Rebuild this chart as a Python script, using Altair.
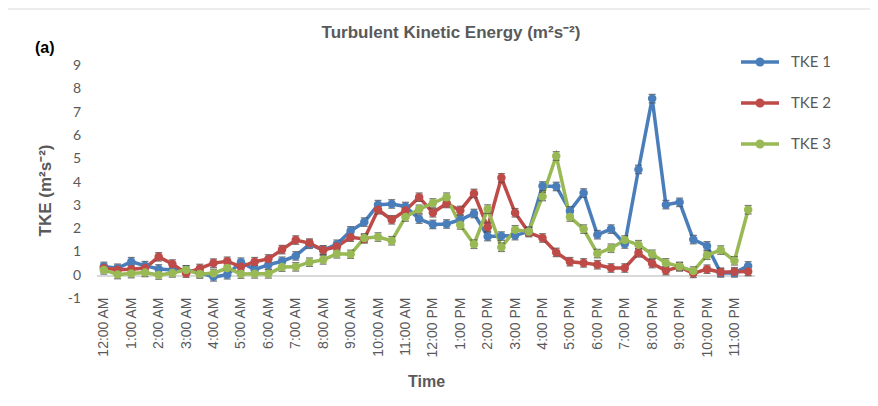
import altair as alt
import pandas as pd

times = ["12:00 AM", "12:30 AM", "1:00 AM", "1:30 AM", "2:00 AM", "2:30 AM",
         "3:00 AM", "3:30 AM", "4:00 AM", "4:30 AM", "5:00 AM", "5:30 AM",
         "6:00 AM", "6:30 AM", "7:00 AM", "7:30 AM", "8:00 AM", "8:30 AM",
         "9:00 AM", "9:30 AM", "10:00 AM", "10:30 AM", "11:00 AM", "11:30 AM",
         "12:00 PM", "12:30 PM", "1:00 PM", "1:30 PM", "2:00 PM", "2:30 PM",
         "3:00 PM", "3:30 PM", "4:00 PM", "4:30 PM", "5:00 PM", "5:30 PM",
         "6:00 PM", "6:30 PM", "7:00 PM", "7:30 PM", "8:00 PM", "8:30 PM",
         "9:00 PM", "9:30 PM", "10:00 PM", "10:30 PM", "11:00 PM", "11:30 PM"]
hour_labels = ["12:00 AM", "1:00 AM", "2:00 AM", "3:00 AM", "4:00 AM", "5:00 AM",
               "6:00 AM", "7:00 AM", "8:00 AM", "9:00 AM", "10:00 AM", "11:00 AM",
               "12:00 PM", "1:00 PM", "2:00 PM", "3:00 PM", "4:00 PM", "5:00 PM",
               "6:00 PM", "7:00 PM", "8:00 PM", "9:00 PM", "10:00 PM", "11:00 PM"]
y_ticks = [-1, 0, 1, 2, 3, 4, 5, 6, 7, 8, 9]
y_tick_labels = ["-1", "0", "1", "2", "3", "4", "5", "6", "7", "8", "9"]

tke1 = [0.40, 0.32, 0.60, 0.43, 0.29, 0.24, 0.24, 0.12, -0.05, 0.04, 0.58, 0.26,
        0.47, 0.62, 0.85, 1.35, 1.10, 1.35, 1.92, 2.30, 3.05, 3.08, 2.97, 2.43,
        2.20, 2.22, 2.40, 2.67, 1.68, 1.70, 1.72, 1.90, 3.85, 3.83, 2.78, 3.55,
        1.76, 2.00, 1.36, 4.56, 7.60, 3.05, 3.15, 1.55, 1.28, 0.12, 0.12, 0.42]
tke2 = [0.33, 0.26, 0.28, 0.33, 0.81, 0.50, 0.11, 0.31, 0.54, 0.62, 0.38, 0.60,
        0.72, 1.12, 1.53, 1.40, 1.10, 1.25, 1.65, 1.58, 2.83, 2.40, 2.80, 3.37,
        2.70, 3.10, 2.80, 3.53, 2.08, 4.20, 2.70, 1.85, 1.62, 1.00, 0.60, 0.55,
        0.47, 0.33, 0.33, 0.98, 0.52, 0.22, 0.38, 0.10, 0.28, 0.15, 0.17, 0.18]
tke3 = [0.25, 0.05, 0.09, 0.14, 0.03, 0.12, 0.25, 0.07, 0.10, 0.33, 0.07, 0.08,
        0.08, 0.37, 0.38, 0.58, 0.68, 0.94, 0.92, 1.62, 1.66, 1.50, 2.52, 2.85,
        3.12, 3.37, 2.18, 1.35, 2.86, 1.22, 1.97, 1.90, 3.40, 5.14, 2.52, 2.00,
        0.95, 1.18, 1.53, 1.33, 0.92, 0.55, 0.40, 0.20, 0.88, 1.10, 0.64, 2.83]
series_names = ["TKE 1", "TKE 2", "TKE 3"]
line_keys = ["L1", "L2", "L3"]
series_colors = ["#4A7EBB", "#BE4B48", "#98B954"]

df = pd.DataFrame({
    "time": times * 3,
    "series": [series_names[0]] * len(tke1) + [series_names[1]] * len(tke2) + [series_names[2]] * len(tke3),
    "lkey": [line_keys[0]] * len(tke1) + [line_keys[1]] * len(tke2) + [line_keys[2]] * len(tke3),
    "tke": tke1 + tke2 + tke3,
})

PW, PH = 658, 233
grey = "#595959"
CAP = 4.2  # half-length of the error bars in pixels

xenc = alt.X("time:N", sort=times, scale=alt.Scale(type="point", padding=0.5),
             axis=alt.Axis(values=hour_labels, labelAngle=270, labelAlign="right",
                           labelBaseline="middle", labelPadding=-2, ticks=False,
                           domain=False, grid=False, labelFont="Liberation Sans",
                           labelFontSize=14, labelColor=grey, labelOverlap=False,
                           title="Time",
                           titleFont="Liberation Sans", titleFontSize=16,
                           titleFontWeight="bold", titleColor=grey,
                           titleY=82, titleBaseline="middle"))
yscale = alt.Scale(domain=[-1, 9], nice=False, zero=False)
yaxis = alt.Axis(values=y_ticks, ticks=False, domain=False, grid=False,
                 labels=False,
                 title="TKE (m²s⁻²)", titleFont="Liberation Sans",
                 titleFontSize=17, titleFontWeight="bold",
                 titleColor=grey, titleAngle=270, titleX=-52, titleY=124,
                 titleAlign="center", titleBaseline="middle")
yenc = alt.Y("tke:Q", scale=yscale, axis=yaxis)

legend_sym = ("M-1,-0.09H1V0.09H-1Z "
              "M0.24,0A0.24,0.24 0 1,1 -0.24,0A0.24,0.24 0 1,1 0.24,0Z")

base = alt.Chart(df)

zero_line = base.mark_rule(color="#D9D9D9", strokeWidth=1.5).encode(
    y=alt.datum(0))

ylabels = alt.Chart(pd.DataFrame({"v": y_ticks, "lab": y_tick_labels})).mark_text(
    align="right", baseline="middle", font="Lato", fontSize=14,
    color=grey).encode(
    y=alt.Y("v:Q", scale=yscale, axis=yaxis), x=alt.value(-16), text="lab:N")

lines = base.mark_line(strokeWidth=3.5).encode(
    x=xenc, y=yenc,
    stroke=alt.Stroke("lkey:N", scale=alt.Scale(domain=line_keys, range=series_colors),
                      legend=None),
    detail="series:N")

ebars = base.mark_rule(color="#404040", strokeWidth=1, yOffset=-CAP,
                       y2Offset=CAP).encode(
    x=xenc, y=yenc, y2="tke:Q", detail="series:N")
caps_lo = base.mark_tick(color="#404040", thickness=1.3, size=7,
                         yOffset=CAP).encode(x=xenc, y=yenc)
caps_hi = base.mark_tick(color="#404040", thickness=1.3, size=7,
                         yOffset=-CAP).encode(x=xenc, y=yenc)

points = base.mark_circle(size=72, opacity=1).encode(
    x=xenc, y=yenc,
    color=alt.Color("series:N",
                    scale=alt.Scale(domain=series_names, range=series_colors),
                    legend=alt.Legend(title=None, orient="none", legendX=644,
                                      legendY=-23, symbolType=legend_sym,
                                      symbolSize=1444, symbolStrokeWidth=0,
                                      labelOffset=12, rowPadding=14, padding=0,
                                      labelFont="Lato", labelFontSize=15,
                                      labelColor=grey)))

tag = alt.Chart(pd.DataFrame({"t": ["(a)"]})).mark_text(
    font="Liberation Sans", fontSize=16, fontWeight="bold",
    color="#000000", align="left", baseline="middle").encode(
    text="t:N", x=alt.value(-62), y=alt.value(-18))

title_txt = alt.Chart(pd.DataFrame({"t": ["Turbulent Kinetic Energy (m²s⁻²)"]})).mark_text(
    font="Liberation Sans", fontSize=17, fontWeight="bold",
    color=grey, align="center", baseline="middle").encode(
    text="t:N", x=alt.value(PW / 2 + 25), y=alt.value(-33))

border = alt.Chart(pd.DataFrame({"b": [1]})).mark_rect(
    fill=None, stroke="#D9D9D9", strokeWidth=1).encode(
    x=alt.value(-92), x2=alt.value(800), y=alt.value(-57), y2=alt.value(400))

chart = alt.layer(border, zero_line, ylabels, lines, ebars, caps_lo, caps_hi,
                  points, tag, title_txt).properties(
    width=PW, height=PH, background="white",
    autosize=alt.AutoSizeParams(type="none"),
    padding={"left": 89, "top": 58, "right": 115, "bottom": 99},
).configure_view(stroke=None)

chart.save("out.html", embed_options={"renderer": "svg", "actions": False})
